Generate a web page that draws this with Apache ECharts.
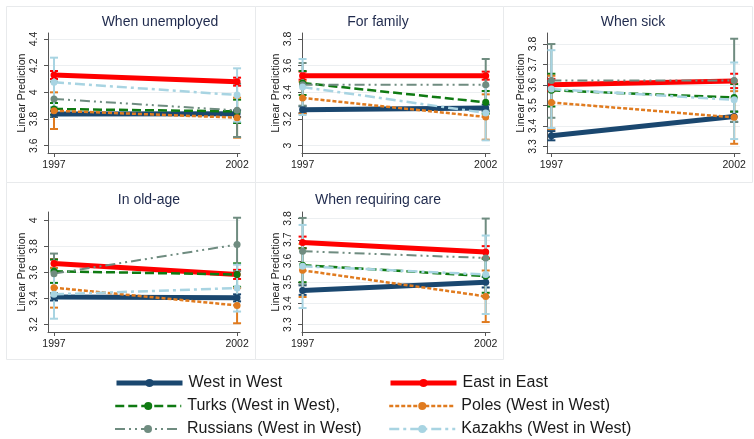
<!DOCTYPE html>
<html>
<head>
<meta charset="utf-8">
<script src="https://cdn.jsdelivr.net/npm/echarts@6/dist/echarts.min.js"></script>
<style>
  html, body { margin: 0; padding: 0; background: #fff; }
  #chart { width: 754px; height: 439px; }
</style>
</head>
<body>
<div id="chart"></div>
<script>
// data (margins by survey year)
var years = [1997, 2002];
var panelTitles = ['When unemployed', 'For family', 'When sick', 'In old-age', 'When requiring care'];
var groupNames = ['West in West', 'East in East', 'Turks (West in West),', 'Poles (West in West)', 'Russians (West in West)', 'Kazakhs (West in West)'];

var yTicks = [
  [3.6, 3.8, 4, 4.2, 4.4],
  [3, 3.2, 3.4, 3.6, 3.8],
  [3.3, 3.4, 3.5, 3.6, 3.7, 3.8],
  [3.2, 3.4, 3.6, 3.8, 4],
  [3.3, 3.4, 3.5, 3.6, 3.7, 3.8]
];

// mean per panel: [1997, 2002]
var westMean     = [[3.838, 3.840], [3.270, 3.283], [3.352, 3.446], [3.412, 3.405], [3.461, 3.500]];
var eastMean     = [[4.130, 4.080], [3.525, 3.525], [3.601, 3.620], [3.668, 3.584], [3.687, 3.642]];
var turksMean    = [[3.875, 3.857], [3.470, 3.325], [3.574, 3.539], [3.609, 3.584], [3.580, 3.529]];
var polesMean    = [[3.862, 3.810], [3.358, 3.215], [3.515, 3.442], [3.483, 3.347], [3.556, 3.433]];
var russiansMean = [[3.950, 3.865], [3.457, 3.457], [3.622, 3.622], [3.591, 3.814], [3.646, 3.614]];
var kazakhsMean  = [[4.075, 3.980], [3.440, 3.245], [3.580, 3.528], [3.432, 3.480], [3.575, 3.536]];

// confidence intervals per panel: [[lo1997, hi1997], [lo2002, hi2002]]
var westCI = [
  [[3.815, 3.860], [3.815, 3.865]], [[3.245, 3.295], [3.258, 3.308]], [[3.330, 3.375], [3.420, 3.470]],
  [[3.385, 3.440], [3.378, 3.432]], [[3.440, 3.485], [3.475, 3.525]]
];
var eastCI = [
  [[4.100, 4.160], [4.050, 4.110]], [[3.495, 3.555], [3.495, 3.555]], [[3.570, 3.630], [3.585, 3.655]],
  [[3.635, 3.700], [3.550, 3.620]], [[3.660, 3.715], [3.615, 3.670]]
];
var turksCI = [
  [[3.830, 3.920], [3.770, 3.945]], [[3.380, 3.560], [3.240, 3.410]], [[3.495, 3.655], [3.470, 3.605]],
  [[3.520, 3.700], [3.490, 3.670]], [[3.500, 3.660], [3.450, 3.610]]
];
var polesCI = [
  [[3.725, 4.000], [3.660, 3.960]], [[3.240, 3.480], [3.045, 3.385]], [[3.385, 3.645], [3.313, 3.570]],
  [[3.330, 3.635], [3.210, 3.480]], [[3.430, 3.680], [3.312, 3.555]]
];
var russiansCI = [
  [[3.820, 4.080], [3.665, 4.065]], [[3.300, 3.620], [3.265, 3.650]], [[3.440, 3.800], [3.420, 3.826]],
  [[3.440, 3.745], [3.610, 4.020]], [[3.490, 3.803], [3.430, 3.800]]
];
var kazakhsCI = [
  [[3.890, 4.260], [3.780, 4.180]], [[3.230, 3.650], [3.040, 3.450]], [[3.390, 3.770], [3.336, 3.710]],
  [[3.245, 3.620], [3.300, 3.660]], [[3.378, 3.770], [3.350, 3.720]]
];

var means = [westMean, eastMean, turksMean, polesMean, russiansMean, kazakhsMean];
var cis = [westCI, eastCI, turksCI, polesCI, russiansCI, kazakhsCI];

// styles
var colors = ['#1a476f', '#ff0000', '#0f7a12', '#e07b1f', '#6f8c80', '#a8d4e2'];
var widths = [5, 5, 2.5, 2.5, 2, 2.5];
var dashes = ['solid', 'solid', [9, 4], [4, 2], [10, 4, 2, 4, 2, 4], [10, 4, 3, 4]];

// layout of the five panels
var grids = [
  { left: 48, top: 33, width: 192, height: 120 },
  { left: 302, top: 33, width: 188, height: 120 },
  { left: 547, top: 33, width: 193, height: 120 },
  { left: 48, top: 212, width: 192, height: 120 },
  { left: 302, top: 212, width: 188, height: 120 }
];
var xRanges = [[1996.836, 2002.08], [1996.984, 2002.117], [1996.88, 2002.16], [1996.836, 2002.08], [1996.984, 2002.117]];
var yRanges = [[3.545, 4.445], [2.945, 3.845], [3.268, 3.854], [3.143, 4.064], [3.265, 3.831]];
var titlePos = [[160, 15], [378, 15], [633, 15], [149, 193], [378, 193]];

var chart = echarts.init(document.getElementById('chart'));

var font = 'Liberation Sans, Arial, sans-serif';
var axisColor = '#555';

var xAxes = [], yAxes = [], titles = [], series = [];

for (var p = 0; p < 5; p++) {
  titles.push({
    text: panelTitles[p],
    left: titlePos[p][0],
    top: titlePos[p][1],
    textAlign: 'center',
    padding: 0,
    textStyle: { fontFamily: font, fontSize: 14, fontWeight: 'normal', color: '#1f2a4d' }
  });

  xAxes.push({
    type: 'value',
    gridIndex: p,
    min: xRanges[p][0],
    max: xRanges[p][1],
    axisLine: { show: true, lineStyle: { color: axisColor, width: 1 } },
    axisTick: { show: true, length: 4, customValues: years, lineStyle: { color: axisColor } },
    axisLabel: {
      customValues: years,
      margin: 7,
      fontFamily: font,
      fontSize: 10.5,
      color: '#222',
      formatter: function (v) { return String(v); }
    },
    splitLine: { show: false }
  });

  yAxes.push({
    type: 'value',
    gridIndex: p,
    min: yRanges[p][0],
    max: yRanges[p][1],
    name: 'Linear Prediction',
    nameLocation: 'middle',
    nameGap: 20,
    nameTextStyle: { fontFamily: font, fontSize: 10.5, color: '#222' },
    axisLine: { show: true, lineStyle: { color: axisColor, width: 1 } },
    axisTick: { show: true, length: 4, customValues: yTicks[p], lineStyle: { color: axisColor } },
    axisLabel: {
      customValues: yTicks[p],
      rotate: 90,
      margin: 8,
      fontFamily: font,
      fontSize: 10.5,
      color: '#222',
      formatter: function (v) { return String(Math.round(v * 10) / 10); }
    },
    splitLine: { show: true, customValues: yTicks[p], lineStyle: { color: '#eceff1', width: 1 } }
  });

  for (var g = 0; g < 6; g++) {
    var ciData = [];
    for (var k = 0; k < 2; k++) {
      ciData.push([years[k], cis[g][p][k][0], cis[g][p][k][1]]);
    }
    series.push({
      name: groupNames[g] + ' CI',
      type: 'custom',
      xAxisIndex: p,
      yAxisIndex: p,
      z: 2,
      silent: true,
      renderItem: (function (col) {
        return function (params, api) {
          var top = api.coord([api.value(0), api.value(2)]);
          var bot = api.coord([api.value(0), api.value(1)]);
          var st = { stroke: col, lineWidth: 2 };
          return {
            type: 'group',
            children: [
              { type: 'line', shape: { x1: top[0], y1: top[1], x2: bot[0], y2: bot[1] }, style: st },
              { type: 'line', shape: { x1: top[0] - 4, y1: top[1], x2: top[0] + 4, y2: top[1] }, style: st },
              { type: 'line', shape: { x1: bot[0] - 4, y1: bot[1], x2: bot[0] + 4, y2: bot[1] }, style: st }
            ]
          };
        };
      })(colors[g]),
      data: ciData
    });

    series.push({
      name: groupNames[g],
      type: 'line',
      xAxisIndex: p,
      yAxisIndex: p,
      z: 3,
      silent: true,
      symbol: 'circle',
      symbolSize: 7,
      showSymbol: true,
      color: colors[g],
      lineStyle: { color: colors[g], width: widths[g], type: dashes[g] },
      itemStyle: { color: colors[g] },
      emphasis: { disabled: true },
      animation: false,
      data: [[years[0], means[g][p][0]], [years[1], means[g][p][1]]]
    });
  }
}

// legend: two columns, three rows
var legendPos = [[114, 375], [388, 375], [114, 398], [388, 398], [114, 421], [388, 421]];
var legends = [];
for (var i = 0; i < 6; i++) {
  legends.push({
    data: [groupNames[i]],
    left: legendPos[i][0],
    top: legendPos[i][1],
    padding: 0,
    itemWidth: 66,
    itemHeight: 10,
    itemGap: 0,
    selectedMode: false,
    lineStyle: { width: 'inherit', type: 'inherit' },
    textStyle: { fontFamily: font, fontSize: 16, color: '#1a1a1a', padding: [0, 0, 0, 1] }
  });
}

// panel frames
var frames = [];
var boxes = [[6, 6, 249, 176], [255, 6, 248, 176], [503, 6, 249, 176], [6, 182, 249, 177], [255, 182, 248, 177]];
for (var b = 0; b < boxes.length; b++) {
  frames.push({
    type: 'rect',
    z: -1,
    silent: true,
    shape: { x: boxes[b][0] + 0.5, y: boxes[b][1] + 0.5, width: boxes[b][2], height: boxes[b][3] },
    style: { fill: 'none', stroke: '#e8eaec', lineWidth: 1 }
  });
}

chart.setOption({
  backgroundColor: '#ffffff',
  animation: false,
  title: titles,
  grid: grids,
  xAxis: xAxes,
  yAxis: yAxes,
  legend: legends,
  graphic: frames,
  series: series
});
</script>
</body>
</html>
